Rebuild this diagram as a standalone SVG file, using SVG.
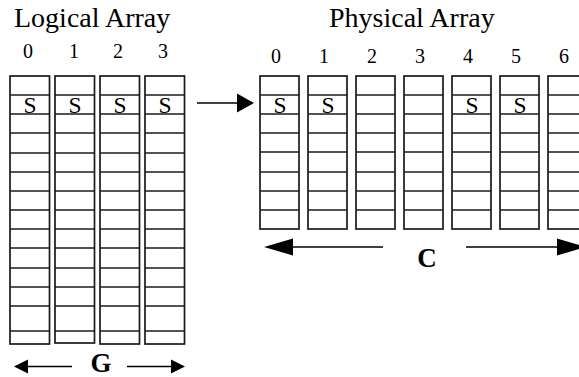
<svg xmlns="http://www.w3.org/2000/svg" width="579" height="377" viewBox="0 0 579 377">
<style>
.col rect{fill:#fff;stroke:#1a1a1a;stroke-width:1.7}
.t{font-family:"Liberation Serif","Times New Roman",serif;fill:#000}
.title{font-size:28px}
.num{font-size:20px;text-anchor:middle}
.s{font-size:23.5px;text-anchor:middle}
.big{font-size:27px;font-weight:bold;text-anchor:middle}
.conn line{stroke:#000;stroke-width:1.7}
.conn polygon{fill:#000}
</style>
<defs>
<g id="lrows" stroke="#1a1a1a" stroke-width="1.5">
<line x1="0" y1="95" x2="39.5" y2="95"/><line x1="0" y1="114" x2="39.5" y2="114"/>
<line x1="0" y1="133" x2="39.5" y2="133"/><line x1="0" y1="153" x2="39.5" y2="153"/>
<line x1="0" y1="172" x2="39.5" y2="172"/><line x1="0" y1="191" x2="39.5" y2="191"/>
<line x1="0" y1="210" x2="39.5" y2="210"/><line x1="0" y1="229" x2="39.5" y2="229"/>
<line x1="0" y1="248" x2="39.5" y2="248"/><line x1="0" y1="268" x2="39.5" y2="268"/>
<line x1="0" y1="287" x2="39.5" y2="287"/><line x1="0" y1="306" x2="39.5" y2="306"/>
<line x1="0" y1="331" x2="39.5" y2="331"/>
</g>
<g id="prows" stroke="#1a1a1a" stroke-width="1.5">
<line x1="0" y1="95" x2="39" y2="95"/><line x1="0" y1="114" x2="39" y2="114"/>
<line x1="0" y1="133" x2="39" y2="133"/><line x1="0" y1="152" x2="39" y2="152"/>
<line x1="0" y1="172" x2="39" y2="172"/><line x1="0" y1="191" x2="39" y2="191"/>
<line x1="0" y1="210" x2="39" y2="210"/>
</g>
</defs>

<g id="labels">
<text class="t title" x="14" y="27">Logical Array</text>
<text class="t title" x="329" y="27">Physical Array</text>
<text class="t num" x="28" y="58">0</text>
<text class="t num" x="74" y="58">1</text>
<text class="t num" x="118" y="58">2</text>
<text class="t num" x="163" y="58">3</text>
<text class="t num" x="276" y="63">0</text>
<text class="t num" x="324" y="63">1</text>
<text class="t num" x="372" y="63">2</text>
<text class="t num" x="420" y="63">3</text>
<text class="t num" x="468" y="63">4</text>
<text class="t num" x="516" y="63">5</text>
<text class="t num" x="564" y="63">6</text>
</g>

<g id="logical-col-0" class="col">
<rect x="10" y="76" width="39.5" height="268"/>
<use href="#lrows" x="10"/>
<text class="t s" x="30" y="112.5">S</text>
</g>
<g id="logical-col-1" class="col">
<rect x="55" y="76" width="39.5" height="267"/>
<use href="#lrows" x="55"/>
<text class="t s" x="75" y="112.5">S</text>
</g>
<g id="logical-col-2" class="col">
<rect x="100" y="76" width="39.5" height="268"/>
<use href="#lrows" x="100"/>
<text class="t s" x="120" y="112.5">S</text>
</g>
<g id="logical-col-3" class="col">
<rect x="145" y="76" width="39.5" height="268"/>
<use href="#lrows" x="145"/>
<text class="t s" x="165" y="112.5">S</text>
</g>

<g id="physical-col-0" class="col">
<rect x="260" y="76" width="39" height="153"/>
<use href="#prows" x="260"/>
<text class="t s" x="280" y="112.5">S</text>
</g>
<g id="physical-col-1" class="col">
<rect x="308" y="76" width="39" height="153"/>
<use href="#prows" x="308"/>
<text class="t s" x="328" y="112.5">S</text>
</g>
<g id="physical-col-2" class="col">
<rect x="356" y="76" width="39" height="153"/>
<use href="#prows" x="356"/>
</g>
<g id="physical-col-3" class="col">
<rect x="404" y="76" width="39" height="153"/>
<use href="#prows" x="404"/>
</g>
<g id="physical-col-4" class="col">
<rect x="452" y="76" width="39" height="153"/>
<use href="#prows" x="452"/>
<text class="t s" x="472" y="112.5">S</text>
</g>
<g id="physical-col-5" class="col">
<rect x="500" y="76" width="39" height="153"/>
<use href="#prows" x="500"/>
<text class="t s" x="520" y="112.5">S</text>
</g>
<g id="physical-col-6" class="col">
<rect x="548" y="76" width="39" height="153"/>
<use href="#prows" x="548"/>
</g>

<g id="connectors" class="conn">
<line x1="197" y1="103" x2="238" y2="103"/>
<polygon points="254,103 237,93.5 237,112.5"/>
<line x1="292" y1="247" x2="383" y2="247"/>
<polygon points="264,247 293,238.5 293,255.5"/>
<line x1="466" y1="247" x2="558" y2="247"/>
<polygon points="586,247 557,238.5 557,255.5"/>
<line x1="26" y1="366.5" x2="72" y2="366.5"/>
<polygon points="14,366.5 28,359.5 28,373.5"/>
<line x1="127" y1="366.5" x2="172" y2="366.5"/>
<polygon points="185,366.5 171,359.5 171,373.5"/>
</g>

<g id="dimension-labels">
<text class="t big" x="427" y="267">C</text>
<text class="t big" x="101" y="372">G</text>
</g>
</svg>
